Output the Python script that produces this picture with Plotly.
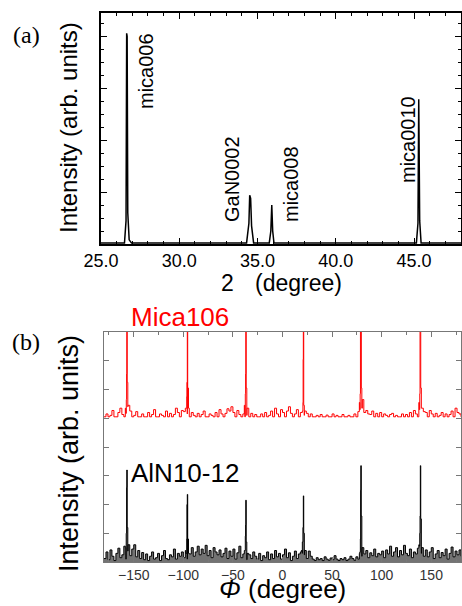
import plotly.graph_objects as go

W, H = 462, 606

# ---------------- (a) XRD 2theta scan ----------------
two_theta = [25.0, 26.50, 26.60, 26.64, 26.67, 26.71, 26.80, 26.95,
             34.30, 34.45, 34.50, 34.56, 34.62, 34.75,
             35.75, 35.85, 35.91, 35.97, 36.05,
             45.15, 45.25, 45.30, 45.36, 45.45, 48.0]
intensity_a = [0.02, 0.02, 0.45, 4.06, 4.00, 0.60, 0.08, 0.02,
               0.02, 0.40, 0.94, 0.88, 0.35, 0.02,
               0.02, 0.25, 0.75, 0.25, 0.02,
               0.02, 0.40, 2.79, 0.45, 0.02, 0.02]
peak_labels_a = ["mica006", "GaN0002", "mica008", "mica0010"]

# ---------------- (b) phi scans ----------------
phi_grid = list(range(-180, 181, 2))
black_noise = [
    0.12, 0.35, 0.08, 0.42, 0.20, 0.05, 0.30, 0.48, 0.15, 0.25, 0.55, 0.10, 0.38, 0.22, 0.45, 0.60, 0.18, 0.40, 0.12, 0.33,
    0.08, 0.28, 0.05, 0.20, 0.35, 0.10, 0.15, 0.30, 0.05, 0.22, 0.40, 0.12, 0.08, 0.25, 0.18, 0.45, 0.10, 0.30, 0.20, 0.35,
    0.15, 0.40, 0.10, 0.28, 0.50, 0.20, 0.35, 0.55, 0.25, 0.45, 0.30, 0.58, 0.22, 0.40, 0.15, 0.50, 0.35, 0.25, 0.42, 0.18,
    0.30, 0.48, 0.12, 0.38, 0.20, 0.45, 0.10, 0.32, 0.55, 0.15, 0.28, 0.40, 0.08, 0.25, 0.12, 0.35, 0.20, 0.10, 0.30, 0.05,
    0.22, 0.15, 0.35, 0.08, 0.28, 0.12, 0.40, 0.18, 0.30, 0.10, 0.25, 0.45, 0.15, 0.32, 0.05, 0.20, 0.38, 0.12, 0.28, 0.35,
    0.30, 0.25, 0.12, 0.38, 0.20, 0.10, 0.05, 0.15, 0.08, 0.12, 0.05, 0.18, 0.10, 0.06, 0.14, 0.08, 0.22, 0.10, 0.05, 0.12,
    0.08, 0.15, 0.05, 0.10, 0.20, 0.12, 0.06, 0.18, 0.10, 0.35, 0.20, 0.28, 0.40, 0.15, 0.32, 0.22, 0.45, 0.18, 0.30, 0.25,
    0.38, 0.15, 0.42, 0.28, 0.55, 0.20, 0.35, 0.50, 0.18, 0.40, 0.25, 0.58, 0.30, 0.22, 0.45, 0.15, 0.35, 0.28, 0.48, 0.55,
    0.30, 0.20, 0.42, 0.18, 0.35, 0.50, 0.12, 0.28, 0.40, 0.15, 0.33, 0.22, 0.45, 0.10, 0.30, 0.52, 0.18, 0.38, 0.25, 0.42,
    0.20]
red_noise = [
    0.00, 0.10, 0.00, 0.05, 0.22, 0.00, 0.00, 0.15, 0.30, 0.08, 0.00, 0.12, 0.35, 0.20, 0.00, 0.05, 0.18, 0.00, 0.00, 0.10,
    0.00, 0.00, 0.15, 0.00, 0.08, 0.25, 0.00, 0.00, 0.10, 0.05, 0.00, 0.20, 0.00, 0.12, 0.00, 0.08, 0.30, 0.15, 0.00, 0.22,
    0.18, 0.30, 0.10, 0.00, 0.15, 0.05, 0.00, 0.12, 0.00, 0.08, 0.20, 0.00, 0.00, 0.10, 0.05, 0.00, 0.15, 0.00, 0.25, 0.10,
    0.00, 0.12, 0.28, 0.20, 0.35, 0.15, 0.00, 0.22, 0.08, 0.00, 0.10, 0.00, 0.05, 0.00, 0.12, 0.00, 0.08, 0.00, 0.00, 0.10,
    0.00, 0.15, 0.00, 0.05, 0.20, 0.00, 0.30, 0.10, 0.00, 0.25, 0.15, 0.00, 0.20, 0.35, 0.12, 0.00, 0.10, 0.25, 0.00, 0.15,
    0.20, 0.05, 0.12, 0.00, 0.10, 0.00, 0.00, 0.05, 0.00, 0.08, 0.00, 0.00, 0.06, 0.00, 0.00, 0.10, 0.00, 0.05, 0.00, 0.00,
    0.08, 0.00, 0.00, 0.05, 0.00, 0.00, 0.10, 0.00, 0.18, 0.25, 0.30, 0.15, 0.22, 0.10, 0.08, 0.20, 0.00, 0.12, 0.00, 0.15,
    0.00, 0.10, 0.05, 0.00, 0.08, 0.12, 0.00, 0.05, 0.00, 0.00, 0.10, 0.00, 0.08, 0.00, 0.15, 0.00, 0.22, 0.10, 0.00, 0.25,
    0.30, 0.18, 0.15, 0.00, 0.22, 0.10, 0.00, 0.12, 0.00, 0.05, 0.15, 0.00, 0.10, 0.00, 0.08, 0.20, 0.00, 0.30, 0.15, 0.10,
    0.00]

black_peak_phi = [-158.5, -157.6, -157.2, -157.0, -156.6, -155.8,
                  -97.5, -96.5, -96.2, -96.0, -95.6, -94.8,
                  -38.5, -37.5, -37.2, -37.0, -36.6, -35.8,
                  19.0, 20.0, 20.6, 21.0, 21.4, 22.2,
                  77.5, 78.5, 78.8, 79.0, 79.4, 80.2,
                  137.5, 138.4, 138.7, 139.0, 139.4, 140.2]
black_peak_int = [0.5, 1.0, 2.6, 3.2, 1.2, 0.6,
                  0.3, 0.8, 2.0, 2.35, 0.8, 0.3,
                  0.4, 0.9, 1.3, 2.15, 0.7, 0.3,
                  0.4, 0.7, 1.2, 2.3, 1.0, 0.4,
                  0.3, 0.8, 2.5, 3.35, 1.6, 0.5,
                  0.6, 1.0, 1.6, 3.35, 1.5, 0.5]
red_peak_phi = [-158.5, -157.5, -157.2, -157.0, -156.6, -155.8,
                -97.5, -96.5, -96.2, -96.0, -95.6, -94.8,
                -38.5, -37.5, -37.2, -37.0, -36.6, -35.8,
                20.0, 20.6, 20.8, 21.0, 21.4, 22.0,
                77.5, 78.3, 78.6, 79.1, 79.5, 80.5,
                137.5, 138.4, 138.7, 139.0, 139.4, 140.2]
red_peak_int = [0.3, 0.6, 1.5, 5.0, 1.2, 0.4,
                0.3, 0.7, 1.2, 5.0, 1.0, 0.3,
                0.4, 0.8, 1.5, 5.0, 1.0, 0.3,
                0.2, 0.5, 2.0, 5.0, 0.4, 0.2,
                0.5, 0.8, 5.0, 5.0, 1.0, 0.6,
                0.5, 0.8, 3.0, 5.0, 1.0, 0.3]
red_offset = 5.05


def merge(xa, ya, xb, yb):
    pts = sorted(list(zip(xa, ya)) + list(zip(xb, yb)), key=lambda p: p[0])
    return [p[0] for p in pts], [p[1] for p in pts]


phi_black, int_black = merge(phi_grid, black_noise, black_peak_phi, black_peak_int)
phi_red, int_red_rel = merge(phi_grid, red_noise, red_peak_phi, red_peak_int)
int_red = [v + red_offset for v in int_red_rel]


def px(x):
    return x / W


def py(y):
    return 1 - y / H


fig = go.Figure()
fig.add_trace(go.Scatter(x=two_theta, y=intensity_a, mode="lines",
                         line=dict(color="black", width=1.5),
                         xaxis="x", yaxis="y", showlegend=False))
fig.add_trace(go.Scatter(x=phi_red, y=int_red, mode="lines",
                         line=dict(color="#ff0000", width=1, shape="hv"),
                         xaxis="x2", yaxis="y2", showlegend=False))
fig.add_trace(go.Scatter(x=phi_black, y=int_black, mode="lines",
                         line=dict(color="black", width=1, shape="hv"),
                         fill="tozeroy", fillcolor="rgba(0,0,0,0.55)",
                         xaxis="x2", yaxis="y2", showlegend=False))

FONT = "Liberation Sans, Arial, sans-serif"

fig.update_layout(
    width=W, height=H,
    margin=dict(l=0, r=0, t=0, b=0, autoexpand=False),
    paper_bgcolor="white", plot_bgcolor="white",
    font=dict(family=FONT, color="black"),
    xaxis=dict(domain=[px(101), px(461)], range=[25, 48], anchor="y", automargin=False,
               showline=True, linecolor="black", linewidth=1.5, mirror="ticks",
               ticks="inside", ticklen=6, tickcolor="black", tickwidth=1,
               tick0=25, dtick=5, tickformat=".1f",
               minor=dict(dtick=1, ticks="inside", ticklen=3, tickcolor="black"),
               showgrid=False, zeroline=False,
               tickfont=dict(size=18, color="black", family=FONT)),
    yaxis=dict(domain=[py(244), py(13)], range=[0, 4.45], anchor="x", automargin=False,
               showline=True, linecolor="black", linewidth=1.5, mirror="ticks",
               ticks="inside", ticklen=6, tickcolor="black", dtick=1,
               minor=dict(dtick=0.25, ticks="inside", ticklen=3, tickcolor="black"),
               showticklabels=False, showgrid=False, zeroline=False),
    xaxis2=dict(domain=[px(104), px(461)], range=[-180, 180], anchor="y2", automargin=False,
                showline=True, linecolor="#777777", linewidth=1, mirror="ticks",
                ticks="inside", ticklen=5, tickcolor="#777777",
                tick0=0, dtick=50,
                minor=dict(dtick=25, ticks="inside", ticklen=3, tickcolor="#777777"),
                showgrid=False, zeroline=False,
                tickfont=dict(size=14, color="#333333", family=FONT)),
    yaxis2=dict(domain=[py(562), py(332)], range=[0, 8], anchor="x2", automargin=False,
                showline=True, linecolor="#777777", linewidth=1, mirror="ticks",
                ticks="inside", ticklen=5, tickcolor="#777777", dtick=1,
                showticklabels=False, showgrid=False, zeroline=False),
)

ann = []


def text(s, x, y, size, color="black", angle=0, family=FONT, yanchor="middle"):
    ann.append(dict(text=s, x=px(x), y=py(y), xref="paper", yref="paper",
                    xanchor="center", yanchor=yanchor, showarrow=False,
                    textangle=angle, font=dict(size=size, color=color, family=family)))


SERIF = "Liberation Serif, Times New Roman, serif"
text("(a)", 26, 35, 24, family=SERIF)
text("(b)", 26, 342, 24, family=SERIF)
text("Intensity (arb. units)", 68, 128, 24, angle=-90)
text("Intensity (arb. units)", 69, 454, 27, angle=-90)
text("2", 227, 283, 23)
text("(degree)", 298, 283, 23)
text("<i>Φ</i> (degree)", 282, 606, 26, yanchor="bottom")
text(peak_labels_a[0], 146, 71, 20, angle=-90)
text(peak_labels_a[1], 232, 179, 20, angle=-90)
text(peak_labels_a[2], 291, 184, 20, angle=-90)
text(peak_labels_a[3], 408, 140, 20, angle=-90)
text("Mica106", 180, 317, 26, color="#ff0000")
text("AlN10-12", 185, 473, 26)

fig.update_layout(annotations=ann)
fig.write_html("out.html", config={"displayModeBar": False},
               post_script="document.body.style.margin='0';document.body.style.padding='0';"
                           "document.documentElement.style.overflow='hidden';")
